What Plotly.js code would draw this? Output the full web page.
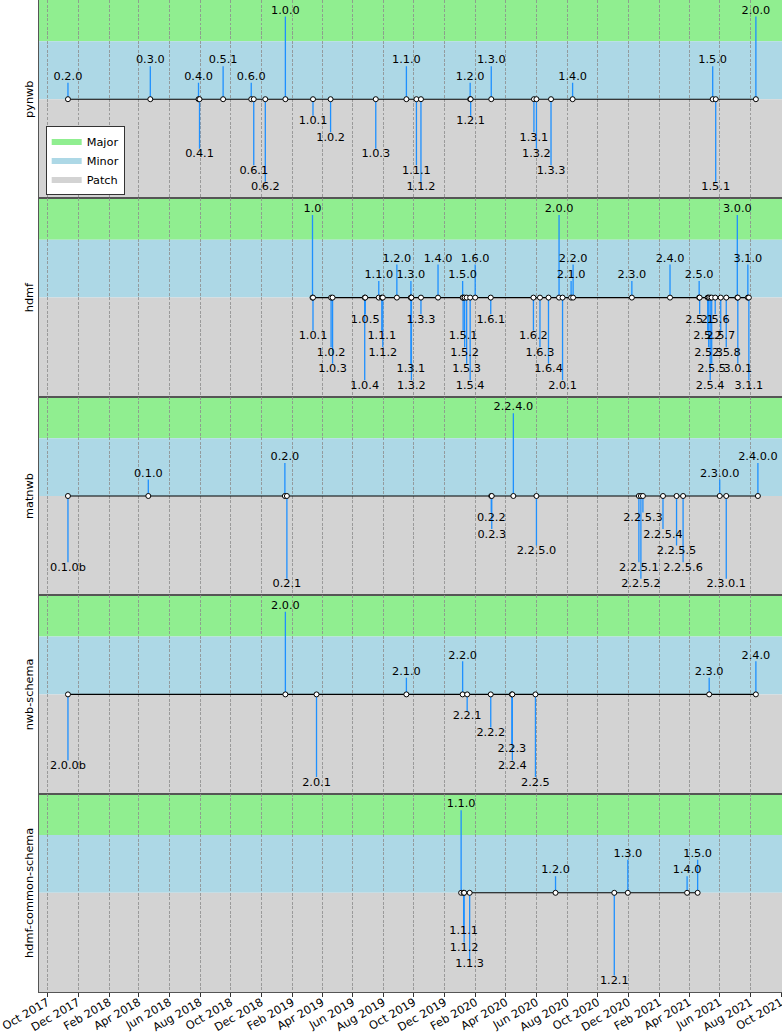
<!DOCTYPE html>
<html>
<head>
<meta charset="utf-8">
<script src="https://cdn.plot.ly/plotly-3.0.1.min.js"></script>
<style>html,body{margin:0;padding:0;background:#fff;}#chart{width:782px;height:1032px;}</style>
</head>
<body>
<div id="chart"></div>
<script>
// ---- data ----
const projects = ["pynwb", "hdmf", "matnwb", "nwb-schema", "hdmf-common-schema"];

const pynwbVersions = ["0.2.0","0.3.0","0.4.0","0.4.1","0.5.1","0.6.0","0.6.1","0.6.2","1.0.0","1.0.1","1.0.2","1.0.3","1.1.0","1.1.1","1.1.2","1.2.0","1.2.1","1.3.0","1.3.1","1.3.2","1.3.3","1.4.0","1.5.0","1.5.1","2.0.0"];
const pynwbDates = ["2017-11-11","2018-04-24","2018-07-29","2018-07-31","2018-09-16","2018-11-11","2018-11-16","2018-12-09","2019-01-18","2019-03-14","2019-04-18","2019-07-17","2019-09-16","2019-10-06","2019-10-15","2020-01-21","2020-01-22","2020-03-03","2020-05-27","2020-06-01","2020-06-30","2020-08-12","2021-05-18","2021-05-24","2021-08-12"];
const pynwbLevels = [1,2,1,-3,2,1,-4,-5,5,-1,-2,-3,2,-4,-5,1,-1,2,-2,-3,-4,1,2,-5,5];

const hdmfVersions = ["1.0","1.0.1","1.0.2","1.0.3","1.0.4","1.0.5","1.1.0","1.1.1","1.1.2","1.2.0","1.3.0","1.3.1","1.3.2","1.3.3","1.4.0","1.5.0","1.5.1","1.5.2","1.5.3","1.5.4","1.6.0","1.6.1","1.6.2","1.6.3","1.6.4","2.0.0","2.0.1","2.1.0","2.2.0","2.3.0","2.4.0","2.5.0","2.5.1","2.5.2","2.5.3","2.5.4","2.5.5","2.5.6","2.5.7","2.5.8","3.0.0","3.0.1","3.1.0","3.1.1"];
const hdmfDates = ["2019-03-13","2019-03-14","2019-04-19","2019-04-22","2019-06-25","2019-06-26","2019-07-23","2019-07-29","2019-07-31","2019-08-28","2019-09-25","2019-09-25","2019-09-26","2019-10-15","2019-11-18","2020-01-06","2020-01-07","2020-01-10","2020-01-14","2020-01-21","2020-01-31","2020-03-02","2020-05-26","2020-06-08","2020-06-25","2020-07-16","2020-07-23","2020-08-09","2020-08-13","2020-12-08","2021-02-22","2021-04-21","2021-04-22","2021-05-08","2021-05-10","2021-05-13","2021-05-16","2021-05-23","2021-06-03","2021-06-14","2021-07-06","2021-07-07","2021-07-27","2021-07-29"];
const hdmfLevels = [5,-2,-3,-4,-5,-1,1,-2,-3,2,1,-4,-5,-1,2,1,-2,-3,-4,-5,2,-1,-2,-3,-4,5,-5,1,2,1,2,1,-1,-2,-3,-5,-4,-1,-2,-3,5,-4,2,-5];

const matnwbVersions = ["0.1.0b","0.1.0","0.2.0","0.2.1","0.2.2","0.2.3","2.2.4.0","2.2.5.0","2.2.5.1","2.2.5.2","2.2.5.3","2.2.5.4","2.2.5.5","2.2.5.6","2.3.0.0","2.3.0.1","2.4.0.0"];
const matnwbDates = ["2017-11-11","2018-04-20","2019-01-17","2019-01-21","2020-03-03","2020-03-04","2020-04-16","2020-06-01","2020-12-22","2020-12-26","2020-12-30","2021-02-08","2021-03-07","2021-03-20","2021-06-01","2021-06-14","2021-08-16"];
const matnwbLevels = [-4,1,2,-5,-1,-2,5,-3,-4,-5,-1,-2,-3,-4,1,-5,2];

const nwbSchemaVersions = ["2.0.0b","2.0.0","2.0.1","2.1.0","2.2.0","2.2.1","2.2.2","2.2.3","2.2.4","2.2.5","2.3.0","2.4.0"];
const nwbSchemaDates = ["2017-11-11","2019-01-18","2019-03-21","2019-09-16","2020-01-06","2020-01-15","2020-03-02","2020-04-13","2020-04-14","2020-05-30","2021-05-11","2021-08-12"];
const nwbSchemaLevels = [-4,5,-5,1,2,-1,-2,-3,-4,-5,1,2];

const hdmfCommonVersions = ["1.1.0","1.1.1","1.1.2","1.1.3","1.2.0","1.2.1","1.3.0","1.4.0","1.5.0"];
const hdmfCommonDates = ["2020-01-03","2020-01-08","2020-01-09","2020-01-20","2020-07-09","2020-11-03","2020-11-30","2021-03-28","2021-04-18"];
const hdmfCommonLevels = [5,-2,-3,-4,1,-5,2,1,2];

const bandNames = ["Major", "Minor", "Patch"];

// ---- build ----
const FONT = "DejaVu Sans, Verdana, sans-serif";
const FS = 11.3;
const bandColors = ["#90ee90", "#add8e6", "#d3d3d3"];
const bandSpans = [[3.5, 6], [0, 3.5], [-6, 0]];
const stemColor = "#1e90ff";
const xRange = ["2017-09-14 08:00", "2021-10-03 00:00"];

const series = [
  [pynwbVersions, pynwbDates, pynwbLevels],
  [hdmfVersions, hdmfDates, hdmfLevels],
  [matnwbVersions, matnwbDates, matnwbLevels],
  [nwbSchemaVersions, nwbSchemaDates, nwbSchemaLevels],
  [hdmfCommonVersions, hdmfCommonDates, hdmfCommonLevels]
];

const traces = [];
const layout = {
  width: 782, height: 1032,
  margin: {l: 39, r: 0, t: 0, b: 40},
  paper_bgcolor: "#fff", plot_bgcolor: "rgba(0,0,0,0)",
  font: {family: FONT, size: FS, color: "#000"},
  showlegend: true,
  legend: {
    x: 0.009, y: 0.803, xanchor: "left", yanchor: "bottom",
    bgcolor: "#fff", bordercolor: "#333", borderwidth: 1,
    font: {family: FONT, size: FS, color: "#000"},
    tracegroupgap: 0, itemwidth: 30
  },
  shapes: []
};

series.forEach((s, i) => {
  const [vers, dates, levels] = s;
  const n = i + 1;
  const xa = n === 1 ? "x" : "x" + n;
  const ya = n === 1 ? "y" : "y" + n;
  const sx = [], sy = [];
  dates.forEach((d, k) => { sx.push(d, d, null); sy.push(0, levels[k], null); });
  traces.push({type: "scatter", mode: "lines", x: sx, y: sy, xaxis: xa, yaxis: ya,
    line: {color: stemColor, width: 1.3}, hoverinfo: "skip", showlegend: false});
  const sorted = dates.slice().sort();
  traces.push({type: "scatter", mode: "lines+markers", x: sorted, y: sorted.map(() => 0),
    xaxis: xa, yaxis: ya, line: {color: "#000", width: 1.1},
    marker: {size: 5, color: "#fff", line: {color: "#000", width: 1}},
    hoverinfo: "skip", showlegend: false});
  traces.push({type: "scatter", mode: "text", x: dates, y: levels, text: vers,
    textposition: levels.map(l => l > 0 ? "top center" : "bottom center"),
    textfont: {family: FONT, size: FS, color: "#000"},
    xaxis: xa, yaxis: ya, hoverinfo: "skip", showlegend: false, cliponaxis: false});

  const xKey = n === 1 ? "xaxis" : "xaxis" + n;
  const yKey = n === 1 ? "yaxis" : "yaxis" + n;
  layout[xKey] = {
    type: "date", range: xRange, anchor: ya, domain: [0, 1],
    tick0: "2017-10-01", dtick: "M2", tickformat: "%b %Y",
    showticklabels: n === series.length, tickangle: -30, ticklabelstandoff: -5,
    ticklabeloverflow: "allow",
    tickfont: {family: FONT, size: FS, color: "#000"},
    ticks: n === series.length ? "outside" : "", ticklen: 3.5, tickcolor: "#000", tickwidth: 0.8,
    showgrid: true, gridcolor: "#8c8c8c", gridwidth: 0.8, griddash: "3px,1.5px",
    showline: true, mirror: true, linecolor: "#555", linewidth: 1, zeroline: false
  };
  layout[yKey] = {
    range: [-6, 6], domain: [1 - n * 0.2, 1 - (n - 1) * 0.2], anchor: xa,
    showticklabels: false, ticks: "", showgrid: false, zeroline: false,
    showline: true, mirror: true, linecolor: "#555", linewidth: 1,
    title: {text: projects[i], font: {family: FONT, size: FS, color: "#000"}, standoff: 2}
  };
  bandSpans.forEach((sp, b) => {
    layout.shapes.push({type: "rect", xref: xa + " domain", yref: ya, x0: 0, x1: 1,
      y0: sp[0], y1: sp[1], fillcolor: bandColors[b], line: {width: 0}, layer: "below"});
  });
});

// legend entries (band swatches)
bandNames.forEach((nm, b) => {
  traces.push({type: "scatter", mode: "none", x: [null], y: [null], name: nm,
    fill: "toself", fillcolor: bandColors[b],
    xaxis: "x", yaxis: "y", showlegend: true, hoverinfo: "skip"});
});

Plotly.newPlot("chart", traces, layout, {staticPlot: true, displayModeBar: false});
</script>
</body>
</html>
